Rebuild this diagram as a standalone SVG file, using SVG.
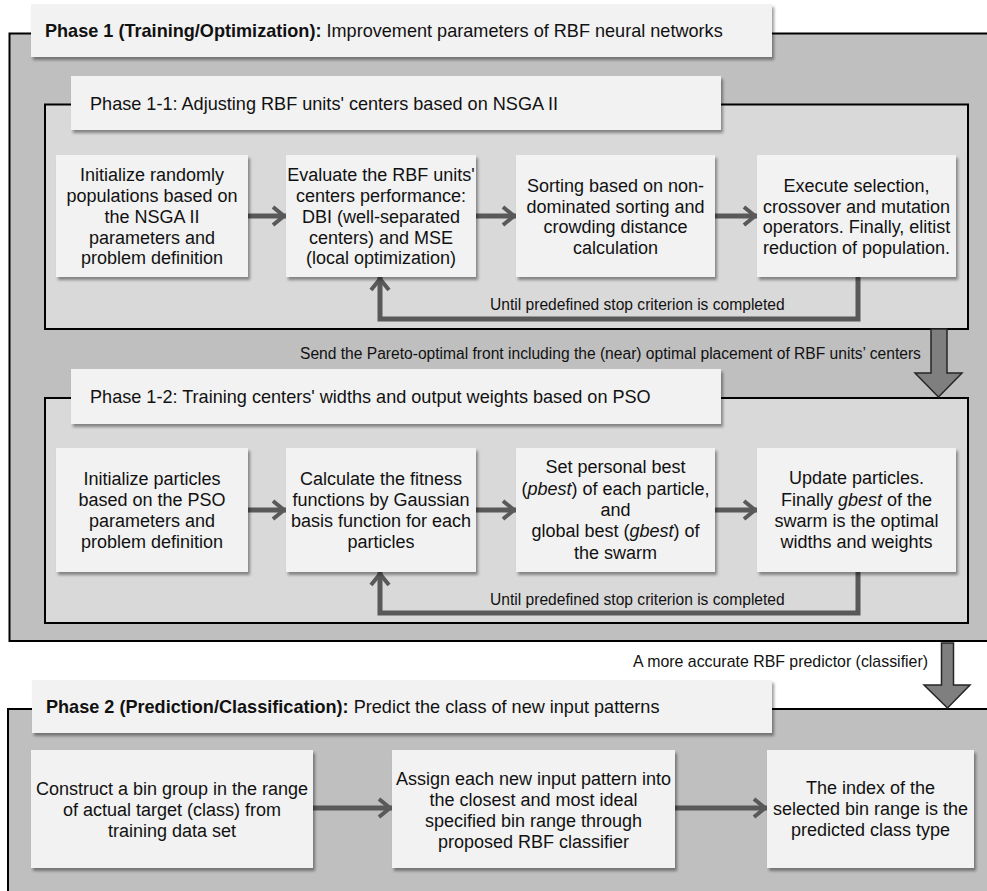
<svg xmlns="http://www.w3.org/2000/svg" width="987" height="891" viewBox="0 0 987 891">
<defs>
<filter id="sh" x="-5%" y="-10%" width="115%" height="130%"><feDropShadow dx="2" dy="3" stdDeviation="1.5" flood-color="#000" flood-opacity="0.4"/></filter>
<marker id="ah" markerUnits="userSpaceOnUse" markerWidth="20" markerHeight="24" refX="14" refY="10" orient="auto" overflow="visible"><path d="M1,1 L12,10 L1,19" fill="none" stroke="#595959" stroke-width="4"/></marker>
</defs>
<style>
text{font-family:"Liberation Sans",Arial,sans-serif;fill:#111}
.bx{fill:#f2f2f2;filter:url(#sh)}
.t{font-size:18px;text-anchor:middle}
.ti{font-size:18.1px}
.lb{font-size:15.6px}
.cn{fill:none;stroke:#595959;stroke-width:5;marker-end:url(#ah)}
.big{fill:#7f7f7f;stroke:#262626;stroke-width:1.5}
.ct{stroke:#000;stroke-width:2}
</style>

<g id="phase1">
<rect class="ct" x="9.5" y="33.5" width="990" height="607.5" fill="#bfbfbf"/>
<rect class="bx" x="31" y="4" width="741" height="53"/>
<text class="ti" x="45" y="37"><tspan font-weight="bold">Phase 1 (Training/Optimization):</tspan> Improvement parameters of RBF neural networks</text>
</g>

<g id="phase1-1">
<rect class="ct" x="45" y="104.5" width="923" height="224.5" fill="#d9d9d9"/>
<rect class="bx" x="71" y="76" width="650" height="54"/>
<text class="ti" x="90" y="109.5">Phase 1-1: Adjusting RBF units' centers based on NSGA II</text>
</g>

<g id="phase1-2">
<rect class="ct" x="45" y="398" width="923" height="225" fill="#d9d9d9"/>
<rect class="bx" x="71" y="369" width="650" height="55"/>
<text class="ti" x="90" y="403">Phase 1-2: Training centers' widths and output weights based on PSO</text>
</g>

<g id="phase2">
<rect class="ct" x="8" y="709" width="992" height="200" fill="#bfbfbf"/>
<rect class="bx" x="32" y="680" width="740" height="53"/>
<text class="ti" x="46" y="713"><tspan font-weight="bold">Phase 2 (Prediction/Classification):</tspan> Predict the class of new input patterns</text>
</g>

<g id="connectors">
<path class="cn" d="M248,216 H286"/>
<path class="cn" d="M476,216 H516"/>
<path class="cn" d="M715,216 H757"/>
<path class="cn" d="M858,277 V319 H380 V277"/>
<path class="cn" d="M248,510 H286"/>
<path class="cn" d="M476,510 H516"/>
<path class="cn" d="M715,510 H757"/>
<path class="cn" d="M858,572 V613 H380 V572"/>
<path class="cn" d="M313,808 H392"/>
<path class="cn" d="M675,808 H767"/>
<text class="lb" x="490" y="310">Until predefined stop criterion is completed</text>
<text class="lb" x="490" y="605">Until predefined stop criterion is completed</text>
<path class="big" d="M931,329 H947 V373 H962 L938.5,397 L915,373 H931 Z"/>
<text class="lb" x="300" y="359">Send the Pareto-optimal front including the (near) optimal placement of RBF units’ centers</text>
<path class="big" d="M941.5,643 H953.5 V685 H970 L947.5,708 L924,685 H941.5 Z"/>
<text class="lb" x="928" y="667" text-anchor="end" style="font-size:15.9px">A more accurate RBF predictor (classifier)</text>
</g>

<g id="n1">
<rect class="bx" x="56" y="155" width="192" height="122"/>
<text class="t"><tspan x="152" y="181">Initialize randomly</tspan><tspan x="152" y="202">populations based on</tspan><tspan x="152" y="223">the NSGA II</tspan><tspan x="152" y="243.5">parameters and</tspan><tspan x="152" y="264">problem definition</tspan></text>
</g>
<g id="n2">
<rect class="bx" x="286" y="155" width="190" height="122"/>
<text class="t"><tspan x="381" y="181">Evaluate the RBF units'</tspan><tspan x="381" y="202">centers performance:</tspan><tspan x="381" y="223">DBI (well-separated</tspan><tspan x="381" y="243.5">centers) and MSE</tspan><tspan x="381" y="264">(local optimization)</tspan></text>
</g>
<g id="n3">
<rect class="bx" x="516" y="155" width="199" height="122"/>
<text class="t"><tspan x="615.5" y="192">Sorting based on non-</tspan><tspan x="615.5" y="212.5">dominated sorting and</tspan><tspan x="615.5" y="233">crowding distance</tspan><tspan x="615.5" y="254">calculation</tspan></text>
</g>
<g id="n4">
<rect class="bx" x="757" y="155" width="199" height="122"/>
<text class="t"><tspan x="856.5" y="192">Execute selection,</tspan><tspan x="856.5" y="212.5">crossover and mutation</tspan><tspan x="856.5" y="233">operators. Finally, elitist</tspan><tspan x="856.5" y="254">reduction of population.</tspan></text>
</g>

<g id="n5">
<rect class="bx" x="56" y="448" width="192" height="124"/>
<text class="t"><tspan x="152" y="485">Initialize particles</tspan><tspan x="152" y="506">based on the PSO</tspan><tspan x="152" y="527">parameters and</tspan><tspan x="152" y="548">problem definition</tspan></text>
</g>
<g id="n6">
<rect class="bx" x="286" y="448" width="190" height="124"/>
<text class="t"><tspan x="381" y="485">Calculate the fitness</tspan><tspan x="381" y="506">functions by Gaussian</tspan><tspan x="381" y="527">basis function for each</tspan><tspan x="381" y="548">particles</tspan></text>
</g>
<g id="n7">
<rect class="bx" x="516" y="448" width="199" height="124"/>
<text class="t"><tspan x="615.5" y="473">Set personal best</tspan><tspan x="615.5" y="494.5">(<tspan font-style="italic">pbest</tspan>) of each particle,</tspan><tspan x="615.5" y="516">and</tspan><tspan x="615.5" y="537">global best (<tspan font-style="italic">gbest</tspan>) of</tspan><tspan x="615.5" y="559">the swarm</tspan></text>
</g>
<g id="n8">
<rect class="bx" x="757" y="448" width="199" height="124"/>
<text class="t"><tspan x="856.5" y="484">Update particles.</tspan><tspan x="856.5" y="505.5">Finally <tspan font-style="italic">gbest</tspan> of the</tspan><tspan x="856.5" y="527">swarm is the optimal</tspan><tspan x="856.5" y="548">widths and weights</tspan></text>
</g>

<g id="n9">
<rect class="bx" x="31" y="750" width="282" height="118"/>
<text class="t"><tspan x="172" y="795">Construct a bin group in the range</tspan><tspan x="172" y="816">of actual target (class) from</tspan><tspan x="172" y="837">training data set</tspan></text>
</g>
<g id="n10">
<rect class="bx" x="392" y="750" width="283" height="118"/>
<text class="t"><tspan x="533.5" y="785">Assign each new input pattern into</tspan><tspan x="533.5" y="806">the closest and most ideal</tspan><tspan x="533.5" y="827">specified bin range through</tspan><tspan x="533.5" y="848">proposed RBF classifier</tspan></text>
</g>
<g id="n11">
<rect class="bx" x="767" y="750" width="207" height="118"/>
<text class="t"><tspan x="870.5" y="794">The index of the</tspan><tspan x="870.5" y="815">selected bin range is the</tspan><tspan x="870.5" y="836">predicted class type</tspan></text>
</g>
</svg>
